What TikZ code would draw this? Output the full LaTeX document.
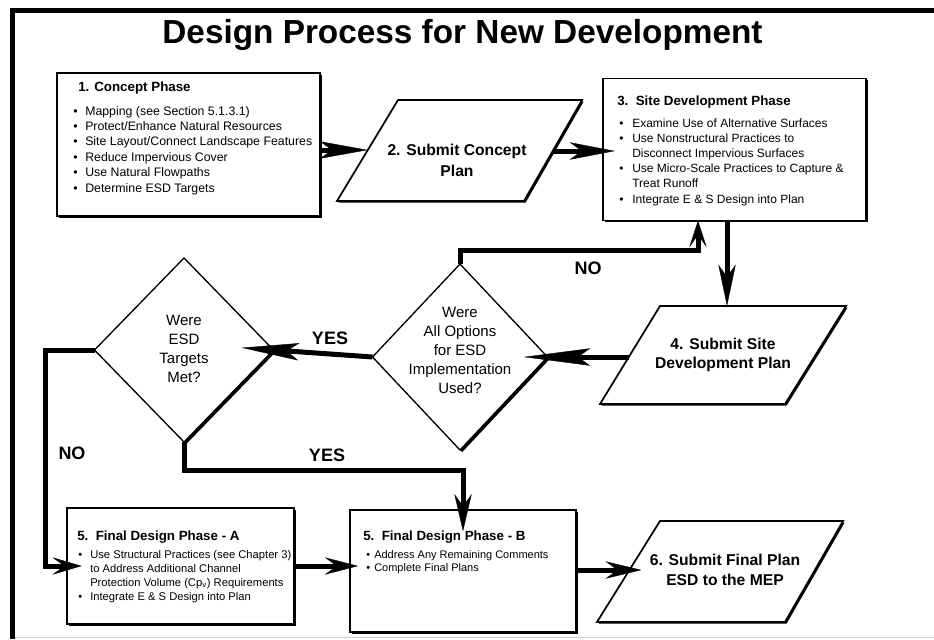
\documentclass[tikz,border=0pt]{standalone}
\usepackage{fontspec}
\setmainfont{Liberation Sans}
\usetikzlibrary{shapes.geometric,arrows.meta,shadows,calc}
\newcommand\bul[1]{\makebox[#1][l]{\textbullet}}
\begin{document}
\begin{tikzpicture}[x=0.75pt,y=-0.75pt,
  shd/.style={drop shadow={shadow xshift=1.2pt,shadow yshift=-1.2pt,opacity=1,fill=black}},
  box/.style={draw,line width=1.1pt,fill=white,rectangle,inner sep=0pt,outer sep=0pt,shd},
  pg/.style={draw,line width=1.3pt,fill=white,line join=miter,shd},
  dia/.style={draw,line width=1pt,fill=white,diamond,inner sep=0pt,outer sep=0pt,
    drop shadow={shadow xshift=1.6pt,shadow yshift=-1.6pt,opacity=1,fill=black}},
  ttl/.style={inner sep=0pt,font=\bfseries\fontsize{10}{12}\selectfont},
  lst/.style={inner sep=0pt,anchor=base west},
  ptxt/.style={inner sep=0pt,align=center,font=\bfseries\fontsize{11.75}{#1}\selectfont},
  dtxt/.style={inner sep=0pt,align=center,font=\fontsize{11.25}{14.25}\selectfont},
  lbl/.style={inner sep=0pt,font=\bfseries\fontsize{13.5}{16}\selectfont},
  arr/.style={line width=3.75pt,line join=miter,
    -{Stealth[length=#1,width=13pt,inset=9pt,line width=0.3pt]}},
  arr/.default=32pt]
\useasboundingbox (0,0) rectangle (934,639);
\fill[white] (0,0) rectangle (934,639);
% frame
\draw[line width=3.4pt] (10,10.5) -- (934,10.5);
\draw[line width=3.4pt] (12.5,8.5) -- (12.5,639);
\draw[black!20,line width=0.6pt] (15,637) -- (934,637);
% title
\node[inner sep=0pt,anchor=base,font=\bfseries\fontsize{25}{30}\selectfont] (title) at (462.5,43) {Design Process for New Development};

% box 1
\node[box,minimum width=197.25pt,minimum height=107.25pt] (b1) at (188.5,144.5) {};
\node[ttl,anchor=base west] (b1h) at (78,91) {1. Concept Phase};
\node[lst,font=\fontsize{9.25}{11.6}\selectfont] (b1l) at (73,115) {\begin{tabular}[t]{@{}l@{}}
\bul{9pt}Mapping (see Section 5.1.3.1)\\
\bul{9pt}Protect/Enhance Natural Resources\\
\bul{9pt}Site Layout/Connect Landscape Features\\
\bul{9pt}Reduce Impervious Cover\\
\bul{9pt}Use Natural Flowpaths\\
\bul{9pt}Determine ESD Targets
\end{tabular}};

% parallelogram 2
\path[pg] (398,100) -- (582,100) -- (524,201) -- (337,201) -- cycle;
\node[ptxt=15.75pt] (p2) at (457,160.5) {2. Submit Concept\\Plan};
\coordinate (p2w) at (367.8,150);
\coordinate (p2e) at (552.7,151);

% box 3
\node[box,minimum width=197.25pt,minimum height=106.5pt] (b3) at (734.5,149.5) {};
\node[ttl,anchor=base west] (b3h) at (617,105) {3.\ \ Site Development Phase};
\node[lst,font=\fontsize{9}{11.4}\selectfont] (b3l) at (619,127) {\begin{tabular}[t]{@{}l@{}}
\bul{9.75pt}Examine Use of Alternative Surfaces\\
\bul{9.75pt}Use Nonstructural Practices to\\
\hspace*{9.75pt}Disconnect Impervious Surfaces\\
\bul{9.75pt}Use Micro-Scale Practices to Capture \&\\
\hspace*{9.75pt}Treat Runoff\\
\bul{9.75pt}Integrate E \& S Design into Plan
\end{tabular}};

% parallelogram 4
\path[pg] (660,306) -- (846,306) -- (785,404) -- (600,404) -- cycle;
\node[ptxt=14.25pt] (p4) at (723,354.5) {4. Submit Site\\Development Plan};
\coordinate (p4n) at (727,306);
\coordinate (p4w) at (628.8,357);

% diamonds
\node[dia,minimum width=131.25pt,minimum height=139.5pt] (d2) at (460,357) {};
\node[dtxt] (d2t) at (460,350) {Were\\All Options\\for ESD\\Implementation\\Used?};
\node[dia,minimum width=134.25pt,minimum height=138pt] (d1) at (184,350) {};
\node[dtxt] (d1t) at (184,349) {Were\\ESD\\Targets\\Met?};

% box 5A
\node[box,minimum width=170.25pt,minimum height=87pt] (b5a) at (180.5,566) {};
\node[ttl,anchor=base west] (b5ah) at (77,540) {5.\ \ Final Design Phase - A};
\node[lst,font=\fontsize{8.4}{10.5}\selectfont] (b5al) at (78,558) {\begin{tabular}[t]{@{}l@{}}
\bul{9pt}Use Structural Practices (see Chapter 3)\\
\hspace*{9pt}to Address Additional Channel\\
\hspace*{9pt}Protection Volume (Cp\textsubscript{v}) Requirements\\
\bul{9pt}Integrate E \& S Design into Plan
\end{tabular}};

% box 5B
\node[box,minimum width=169.5pt,minimum height=91.5pt] (b5b) at (463,571) {};
\node[ttl,anchor=base west] (b5bh) at (363,540) {5.\ \ Final Design Phase - B};
\node[lst,font=\fontsize{8.25}{9.75}\selectfont] (b5bl) at (366,558) {\begin{tabular}[t]{@{}l@{}}
\bul{6pt}Address Any Remaining Comments\\
\bul{6pt}Complete Final Plans
\end{tabular}};

% parallelogram 6
\path[pg] (660,521) -- (843,521) -- (785,622) -- (597,622) -- cycle;
\node[ptxt=15pt] (p6) at (725,569.5) {6. Submit Final Plan\\ESD to the MEP};
\coordinate (p6w) at (629.4,570);

% labels
\node[lbl] (no1) at (588,268) {NO};
\node[lbl] (yes1) at (330,338) {YES};
\node[lbl] (no2) at (72,453) {NO};
\node[lbl] (yes2) at (327,455) {YES};

% helper coordinates
\coordinate (noX) at (698,250);
\coordinate (noL) at (45,350);

% connectors
\draw[arr=36pt] (b1.east |- p2w) -- (p2w);
\draw[arr=34pt,shorten >=-9pt] (p2e) -- (b3.west |- p2e);
\draw[arr=31pt] (b3.south -| p4n) -- (p4n);
\draw[arr=20pt] (d2.north) |- (noX) -- (noX |- b3.south);
\draw[arr=50pt,shorten >=-18pt] (p4w) -- (d2.east);
\draw[arr=43pt,shorten >=-24pt] (d2.west) -- (d1.east);
\draw[arr=22pt,shorten >=-11pt] (d1.west) -- (noL) |- (b5a.west);
\draw[arr=28pt,shorten >=-16pt] (d1.south) |- ([yshift=30pt]b5b.north) -- (b5b.north);
\draw[arr=25pt,shorten >=-6pt] (b5a.east) -- (b5a.east -| b5b.west);
\draw[arr=27pt,shorten >=-9pt] (b5b.east |- p6w) -- (p6w);
\end{tikzpicture}
\end{document}
